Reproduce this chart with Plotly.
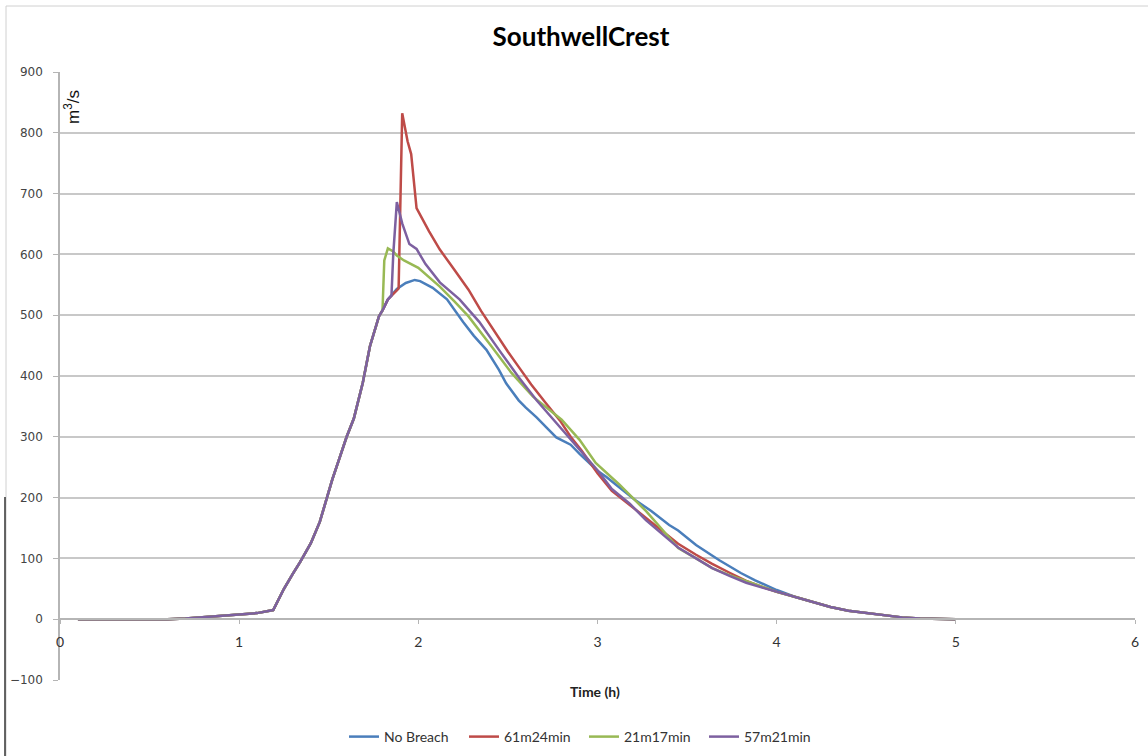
import plotly.graph_objects as go

# Shared rising limb (all scenarios identical until the breach starts)
rise_time = [0.1, 0.2, 0.3, 0.4, 0.5, 0.6, 0.7, 0.8, 0.9, 1.0, 1.1, 1.19, 1.25, 1.3,
             1.34, 1.4, 1.45, 1.49, 1.52, 1.56, 1.6, 1.64, 1.67, 1.69, 1.73, 1.78, 1.8]
rise_flow = [0, 0, 0, -1, -1, 0, 1, 3, 5, 7, 10, 15, 50, 75,
             94, 125, 160, 200, 230, 265, 300, 330, 365, 389, 449, 498, 508]

# Shared recession tail
tail_time = [4.1, 4.2, 4.3, 4.4, 4.5, 4.6, 4.7, 4.8, 4.9, 5.0]
tail_flow = [37, 28, 20, 14, 10, 6, 3, 1, 0, 0]

# No Breach
nb_time = [1.83, 1.88, 1.93, 1.98, 2.01, 2.08, 2.16, 2.25, 2.31, 2.38, 2.45, 2.49,
           2.56, 2.6, 2.66, 2.72, 2.77, 2.85, 2.9, 3.0, 3.05, 3.1, 3.21, 3.3, 3.4,
           3.45, 3.55, 3.68, 3.8, 3.88, 4.0]
nb_flow = [526, 543, 553, 558, 556, 545, 526, 489, 466, 443, 410, 388,
           360, 348, 332, 314, 299, 287, 272, 244, 234, 222, 196, 178, 155,
           146, 122, 97, 76, 64, 48]

# 61m24min
r61_time = [1.83, 1.88, 1.89, 1.91, 1.94, 1.96, 1.99, 2.06, 2.12, 2.2, 2.28, 2.35,
            2.43, 2.5, 2.56, 2.63, 2.71, 2.79, 2.85, 2.91, 3.0, 3.08, 3.18, 3.27,
            3.36, 3.45, 3.55, 3.64, 3.74, 3.83, 3.92, 4.0]
r61_flow = [526, 541, 544, 832, 786, 765, 676, 638, 608, 575, 542, 507,
            471, 440, 415, 386, 356, 327, 300, 278, 240, 211, 188, 167,
            145, 124, 106, 91, 76, 63, 53, 45]

# 21m17min
r21_time = [1.81, 1.83, 1.86, 1.88, 1.92, 2.0, 2.12, 2.2, 2.28, 2.41, 2.52, 2.64,
            2.75, 2.8, 2.9, 2.99, 3.12, 3.2, 3.27, 3.36, 3.45, 3.55, 3.64,
            3.74, 3.83, 3.92, 4.0]
r21_flow = [590, 610, 605, 598, 590, 578, 547, 523, 498, 448, 405, 366,
            339, 328, 295, 257, 222, 198, 178, 148, 117, 100, 84,
            72, 63, 53, 45]

# 57m21min
r57_time = [1.83, 1.85, 1.86, 1.88, 1.91, 1.95, 1.99, 2.04, 2.12, 2.23, 2.34, 2.45,
            2.56, 2.66, 2.79, 2.94, 3.0, 3.08, 3.18, 3.27, 3.36, 3.45, 3.55,
            3.64, 3.74, 3.83, 3.92, 4.0]
r57_flow = [526, 532, 600, 686, 651, 617, 609, 584, 554, 526, 489, 443,
            398, 360, 316, 266, 245, 214, 190, 163, 140, 118, 100,
            84, 71, 60, 52, 45]

series = [
    ("No Breach", "#4A7EBB", nb_time, nb_flow),
    ("61m24min", "#BE4B48", r61_time, r61_flow),
    ("21m17min", "#98B954", r21_time, r21_flow),
    ("57m21min", "#7D60A0", r57_time, r57_flow),
]

x_ticks = [0, 1, 2, 3, 4, 5, 6]
y_ticks = [-100, 0, 100, 200, 300, 400, 500, 600, 700, 800, 900]

fig = go.Figure()
for name, color, t, q in series:
    fig.add_trace(go.Scatter(
        x=rise_time + t + tail_time,
        y=rise_flow + q + tail_flow,
        mode="lines",
        name=name,
        line=dict(color=color, width=2.5),
    ))

W, H = 1148, 756
L, R, T, B = 60, 13, 72, 76
pw, ph = W - L - R, H - T - B


def px_x(p):
    return (p - L) / pw


def px_y(p):
    return (H - B - p) / ph


fig.update_layout(
    width=W, height=H,
    margin=dict(l=L, r=R, t=T, b=B, autoexpand=False),
    paper_bgcolor="white",
    plot_bgcolor="white",
    title=dict(text="<b>SouthwellCrest</b>", xref="container", x=581 / W,
               xanchor="center", yref="container", y=1 - 37 / H, yanchor="middle",
               font=dict(family="Lato", size=26, color="#000000")),
    xaxis=dict(
        range=[0, 6], tickvals=x_ticks, ticktext=[str(v) for v in x_ticks],
        showgrid=False, zeroline=False,
        showline=True, linecolor="#b5b5b5", linewidth=1.5,
        ticks="outside", ticklen=4, tickcolor="#b5b5b5",
        anchor="free", position=0.1, ticklabelstandoff=6,
        tickfont=dict(family="Lato", size=14, color="#333333"),
    ),
    yaxis=dict(
        range=[-100, 900], tickvals=y_ticks,
        showgrid=True, gridcolor="#c8c8c8", gridwidth=1.5,
        zeroline=False,
        showline=True, linecolor="#b5b5b5", linewidth=1.5,
        ticks="outside", ticklen=5, tickcolor="#b5b5b5",
        ticklabelstandoff=8,
        tickfont=dict(family="DejaVu Sans", size=12, color="#444444"),
    ),
    legend=dict(
        orientation="h", x=px_x(584), xanchor="center",
        y=px_y(737), yanchor="middle",
        font=dict(family="Lato", size=14, color="#333333"),
        itemwidth=30, entrywidth=75, entrywidthmode="pixels",
        bgcolor="rgba(0,0,0,0)",
    ),
    annotations=[
        dict(text="<b>Time (h)</b>", xref="paper", yref="paper",
             x=px_x(595), y=px_y(692), xanchor="center", yanchor="middle",
             showarrow=False, font=dict(family="Lato", size=14, color="#222222")),
        dict(text="m<sup>3</sup>/s", xref="paper", yref="paper",
             x=px_x(72), y=px_y(107), xanchor="center", yanchor="middle",
             textangle=-90, showarrow=False,
             font=dict(family="Liberation Sans", size=17, color="#111111")),
    ],
    shapes=[
        # chart frame
        dict(type="rect", xref="paper", yref="paper",
             x0=px_x(6), x1=px_x(1160), y0=px_y(770), y1=px_y(6),
             line=dict(color="#d0d0d0", width=1), layer="below"),
        # dark edge line at the lower left
        dict(type="line", xref="paper", yref="paper",
             x0=px_x(5), x1=px_x(5), y0=px_y(497), y1=px_y(756),
             line=dict(color="#333333", width=1.5)),
    ],
)

fig.write_html("out.html")
